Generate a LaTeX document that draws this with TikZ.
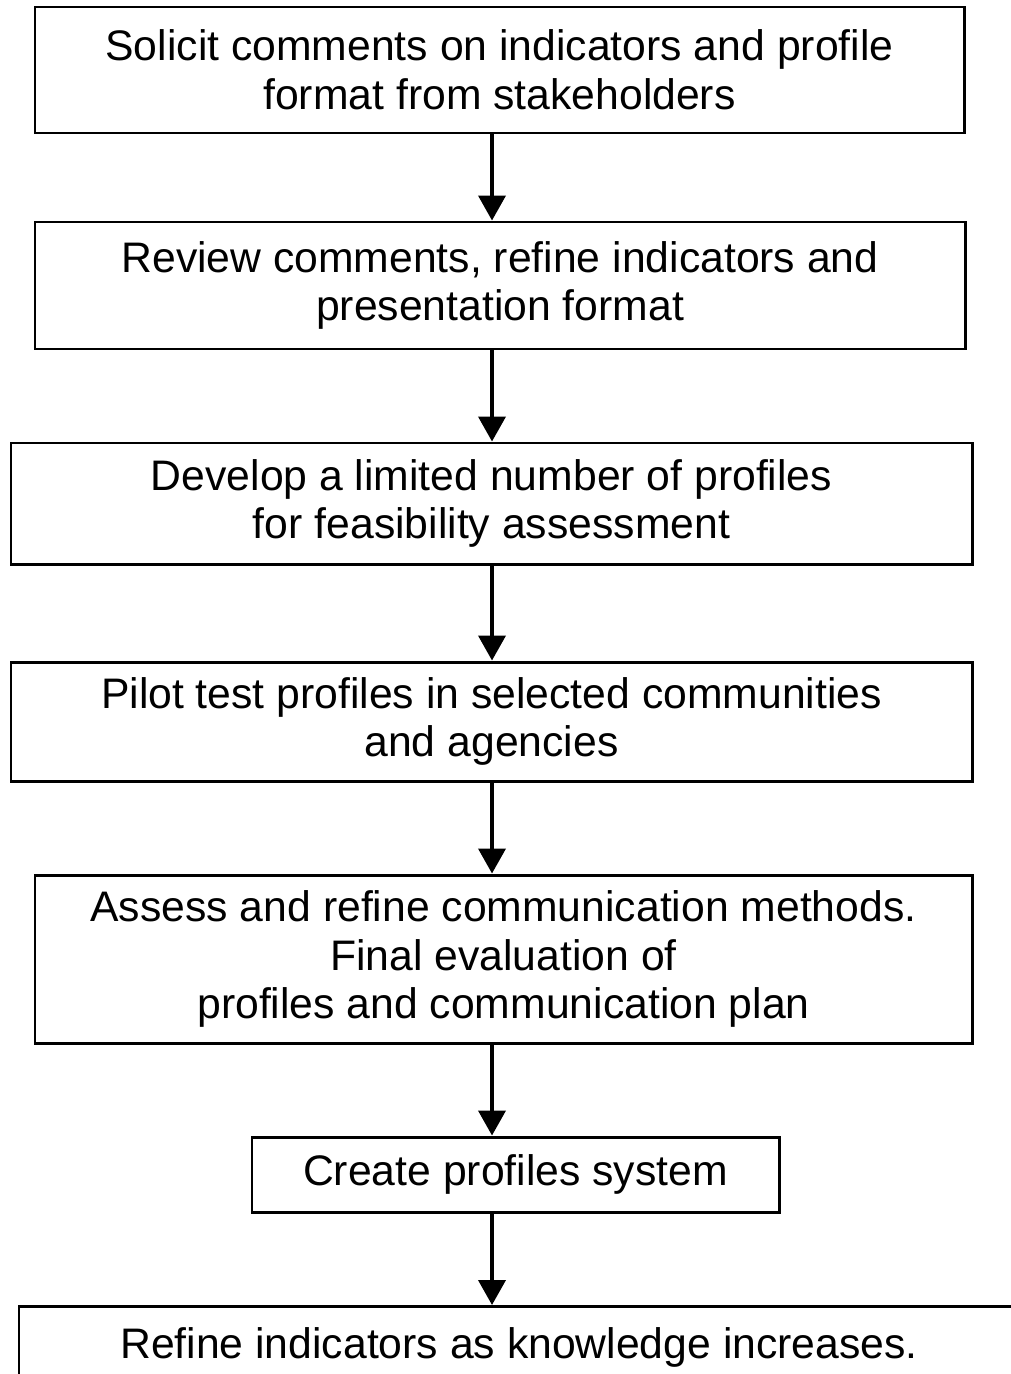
\documentclass[tikz,border=0pt]{standalone}
\usepackage{fontspec}
\setmainfont{Liberation Sans}
\usetikzlibrary{arrows.meta}

\begin{document}
\begin{tikzpicture}[
    stage/.style={
        draw,
        line width=1.7pt,
        align=center,
        inner sep=0pt,
        font=\fontsize{24.3pt}{27.8pt}\selectfont
    },
    flow/.style={-{Triangle[width=0.54cm,length=0.5cm]},line width=2.2pt}
]

\useasboundingbox (0,0) rectangle (20.2,-27.48);

% Nodes
\node[stage, minimum width=18.58cm, minimum height=2.52cm] (solicit) at (9.99,-1.40)
    {Solicit comments on indicators and profile\\format from stakeholders};
\node[stage, minimum width=18.6cm, minimum height=2.54cm] (review) at (10.0,-5.71)
    {Review comments, refine indicators and\\presentation format};
\node[stage, minimum width=19.22cm, minimum height=2.42cm] (develop) at (9.83,-10.07)
    {Develop a limited number of profiles\\for feasibility assessment};
\node[stage, minimum width=19.22cm, minimum height=2.38cm] (pilot) at (9.83,-14.43)
    {Pilot test profiles in selected communities\\and agencies};
\node[stage, minimum width=18.74cm, minimum height=3.36cm] (assess) at (10.07,-19.18)
    {Assess and refine communication methods.\\Final evaluation of\\profiles and communication plan};
\node[stage, minimum width=10.54cm, minimum height=1.5cm] (create) at (10.31,-23.49)
    {Create profiles system};
\node[stage, minimum width=20.0cm, minimum height=1.62cm, anchor=north] (refine) at (10.38,-26.1)
    {Refine indicators as knowledge increases.};

\coordinate (spine) at (9.84,0);

% Edges
\draw[flow] (solicit.south -| spine) -- (review.north -| spine);
\draw[flow] (review.south -| spine) -- (develop.north -| spine);
\draw[flow] (develop.south -| spine) -- (pilot.north -| spine);
\draw[flow] (pilot.south -| spine) -- (assess.north -| spine);
\draw[flow] (assess.south -| spine) -- (create.north -| spine);
\draw[flow] (create.south -| spine) -- (refine.north -| spine);

\end{tikzpicture}
\end{document}
